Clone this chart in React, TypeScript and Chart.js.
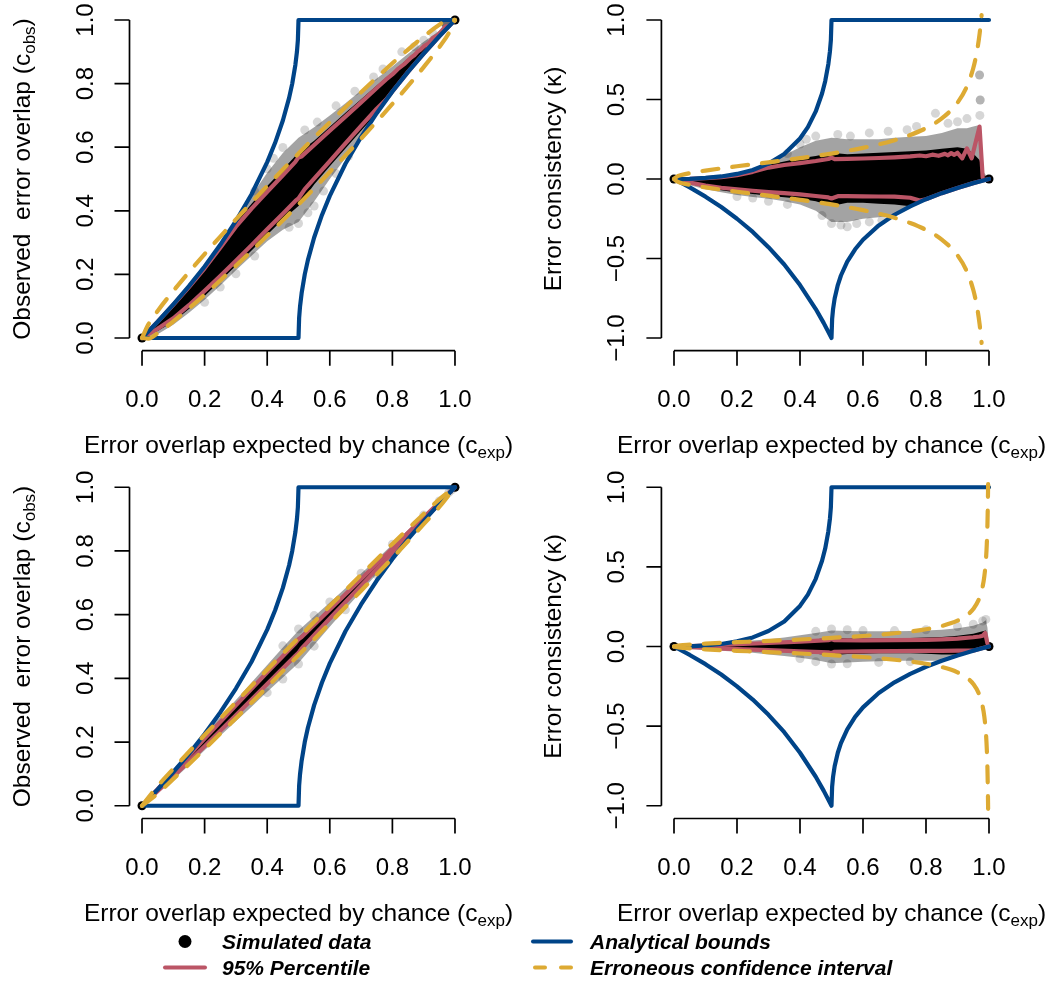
import { useEffect, useRef } from "react";
import { Chart, registerables } from "chart.js";

Chart.register(...registerables);

const FONT = '"Liberation Sans", Arimo, Helvetica, Arial, sans-serif';
const BLUE = "#004488";
const RED = "#BB5566";
const YELLOW = "#DDAA33";

// ---------- axis ticks ----------
const expTicks = [0, 0.2, 0.4, 0.6, 0.8, 1.0];
const expTickLabels = ["0.0", "0.2", "0.4", "0.6", "0.8", "1.0"];
const obsTicks = [0, 0.2, 0.4, 0.6, 0.8, 1.0];
const obsTickLabels = ["0.0", "0.2", "0.4", "0.6", "0.8", "1.0"];
const kappaTicks = [-1, -0.5, 0, 0.5, 1];
const kappaTickLabels = ["\u22121.0", "\u22120.5", "0.0", "0.5", "1.0"];

// ---------- analytical bounds ----------
const boundUpperExp = [0, 0.05, 0.1, 0.15, 0.2, 0.25, 0.3, 0.35, 0.4, 0.425, 0.45, 0.47, 0.48, 0.49, 0.495, 0.498, 0.5, 1.0];
const boundUpperObs = [0, 0.051, 0.106, 0.163, 0.225, 0.293, 0.368, 0.452, 0.553, 0.613, 0.684, 0.755, 0.8, 0.859, 0.9, 0.937, 1.0, 1.0];
const boundUpperKappa = [0, 0.001, 0.007, 0.016, 0.032, 0.057, 0.097, 0.157, 0.255, 0.326, 0.425, 0.538, 0.615, 0.723, 0.802, 0.874, 1.0, 1.0];
const boundLowerObsExp = [0, 0.5, 0.502, 0.505, 0.51, 0.52, 0.53, 0.55, 0.575, 0.6, 0.65, 0.7, 0.75, 0.8, 0.85, 0.9, 0.95, 1.0];
const boundLowerObs = [0, 0, 0.063, 0.1, 0.141, 0.2, 0.245, 0.316, 0.387, 0.447, 0.548, 0.632, 0.707, 0.775, 0.837, 0.894, 0.949, 1.0];
const boundLowerKappaExp = [0, 0.05, 0.1, 0.15, 0.2, 0.25, 0.3, 0.35, 0.4, 0.45, 0.475, 0.5, 0.502, 0.505, 0.51, 0.52, 0.53, 0.55, 0.575, 0.6, 0.65, 0.7, 0.75, 0.8, 0.85, 0.9, 0.95, 1.0];
const boundLowerKappa = [0, -0.053, -0.111, -0.176, -0.25, -0.333, -0.429, -0.538, -0.667, -0.818, -0.905, -1.0, -0.881, -0.818, -0.752, -0.667, -0.607, -0.52, -0.442, -0.382, -0.292, -0.225, -0.172, -0.127, -0.089, -0.056, -0.026, 0];

// ---------- simulated data cloud, top row ----------
const cloudExpTop = [0, 0.05, 0.1, 0.15, 0.2, 0.25, 0.3, 0.35, 0.4, 0.45, 0.5, 0.55, 0.6, 0.65, 0.7, 0.75, 0.8, 0.85, 0.9, 0.93, 0.95, 0.97, 0.98, 1.0];
const coreUpObsTop = [0, 0.051, 0.105, 0.163, 0.224, 0.291, 0.363, 0.422, 0.478, 0.53, 0.583, 0.62, 0.664, 0.708, 0.751, 0.794, 0.836, 0.879, 0.92, 0.943, 0.958, 0.974, 0.981, 1];
const coreLoObsTop = [0, 0.022, 0.051, 0.091, 0.132, 0.179, 0.227, 0.275, 0.325, 0.373, 0.415, 0.483, 0.54, 0.596, 0.652, 0.707, 0.775, 0.837, 0.894, 0.927, 0.949, 0.97, 0.98, 1];
const haloUpObsTop = [0, 0.051, 0.106, 0.164, 0.226, 0.293, 0.368, 0.448, 0.52, 0.582, 0.63, 0.663, 0.7, 0.738, 0.778, 0.816, 0.854, 0.894, 0.932, 0.952, 0.967, 0.98, 0.981, 1];
const haloLoObsTop = [0, 0.012, 0.042, 0.079, 0.12, 0.165, 0.213, 0.259, 0.304, 0.34, 0.365, 0.429, 0.5, 0.566, 0.633, 0.707, 0.775, 0.837, 0.894, 0.927, 0.949, 0.97, 0.98, 1];
const coreUpKappaTop = [0, 0.001, 0.006, 0.015, 0.03, 0.055, 0.09, 0.11, 0.13, 0.145, 0.165, 0.155, 0.16, 0.165, 0.17, 0.175, 0.18, 0.19, 0.2, 0.19, 0.16, 0.12, 0.03, 0];
const coreLoKappaTop = [0, -0.03, -0.055, -0.07, -0.085, -0.095, -0.105, -0.115, -0.125, -0.14, -0.17, -0.15, -0.15, -0.155, -0.16, -0.172, -0.127, -0.089, -0.056, -0.038, -0.026, -0.016, -0.01, 0];
const haloUpKappaTop = [0, 0.001, 0.007, 0.016, 0.032, 0.057, 0.097, 0.15, 0.2, 0.24, 0.26, 0.25, 0.25, 0.25, 0.26, 0.265, 0.27, 0.29, 0.32, 0.32, 0.33, 0.34, 0.05, 0];
const haloLoKappaTop = [0, -0.04, -0.065, -0.083, -0.1, -0.113, -0.125, -0.14, -0.16, -0.2, -0.27, -0.27, -0.25, -0.24, -0.225, -0.172, -0.127, -0.089, -0.056, -0.038, -0.026, -0.016, -0.01, 0];

// scattered simulated points outside the dense core, top row (first two: corner points)
const simExpTop = [0, 1, 0.97, 0.97, 0.972, 0.972, 0.971, 0.83, 0.77, 0.62, 0.45, 0.42, 0.52, 0.68, 0.87, 0.9, 0.93, 0.53, 0.55, 0.5, 0.58, 0.62, 0.36, 0.3, 0.25, 0.2, 0.47, 0.66, 0.56, 0.74, 0.36, 0.4];
const simObsTop = [0, 1, 0.99, 0.99, 0.986, 0.986, 0.983, 0.9, 0.846, 0.73, 0.599, 0.565, 0.654, 0.776, 0.916, 0.936, 0.957, 0.394, 0.415, 0.36, 0.462, 0.517, 0.258, 0.202, 0.16, 0.112, 0.348, 0.572, 0.679, 0.821, 0.462, 0.532];
const simKappaTop = [0, 0, 0.654, 0.654, 0.497, 0.497, 0.4, 0.413, 0.33, 0.29, 0.27, 0.25, 0.28, 0.3, 0.35, 0.36, 0.38, -0.29, -0.3, -0.28, -0.28, -0.27, -0.16, -0.14, -0.12, -0.11, -0.23, -0.26, 0.27, 0.31, 0.16, 0.22];

// ---------- 95% percentile, top row ----------
const pctUpExpTop = [0, 0.05, 0.1, 0.15, 0.2, 0.25, 0.3, 0.35, 0.4, 0.45, 0.49, 0.5, 0.51, 0.55, 0.6, 0.65, 0.7, 0.75, 0.78, 0.8, 0.82, 0.84, 0.86, 0.87, 0.88, 0.89, 0.9, 0.915, 0.93, 0.945, 0.97, 0.98];
const pctUpObsTop = [0, 0.051, 0.1045, 0.16, 0.219, 0.284, 0.35, 0.407, 0.46, 0.512, 0.554, 0.568, 0.571, 0.607, 0.652, 0.696, 0.741, 0.786, 0.813, 0.829, 0.848, 0.863, 0.882, 0.889, 0.9, 0.907, 0.917, 0.926, 0.944, 0.952, 0.98, 0.98];
const pctUpKappaTop = [0, 0.001, 0.005, 0.012, 0.024, 0.045, 0.072, 0.088, 0.1, 0.113, 0.126, 0.135, 0.125, 0.126, 0.129, 0.132, 0.136, 0.142, 0.148, 0.143, 0.153, 0.146, 0.158, 0.149, 0.163, 0.152, 0.165, 0.13, 0.193, 0.13, 0.33, 0.01];
const pctLoExpTop = [0, 0.05, 0.1, 0.15, 0.2, 0.25, 0.3, 0.35, 0.4, 0.45, 0.49, 0.5, 0.52, 0.55, 0.6, 0.65, 0.7, 0.75, 0.78, 0.8, 0.85, 0.9, 0.95, 0.98, 1.0];
const pctLoObsTop = [0, 0.029, 0.062, 0.103, 0.148, 0.195, 0.243, 0.292, 0.342, 0.391, 0.431, 0.439, 0.468, 0.501, 0.556, 0.612, 0.667, 0.721, 0.75, 0.775, 0.837, 0.894, 0.949, 0.98, 1];
const pctLoKappaTop = [0, -0.022, -0.042, -0.055, -0.065, -0.074, -0.082, -0.089, -0.097, -0.107, -0.116, -0.122, -0.108, -0.108, -0.109, -0.11, -0.111, -0.118, -0.135, -0.127, -0.089, -0.056, -0.026, -0.01, 0];

// ---------- erroneous confidence interval, top row ----------
const ciObsExpTop = [0, 0.02, 0.05, 0.1, 0.15, 0.2, 0.25, 0.3, 0.35, 0.4, 0.45, 0.5, 0.55, 0.6, 0.65, 0.7, 0.75, 0.8, 0.85, 0.9, 0.95, 0.98, 1];
const ciObsUpTop = [0, 0.042, 0.085, 0.148, 0.207, 0.264, 0.319, 0.373, 0.426, 0.478, 0.53, 0.58, 0.63, 0.678, 0.726, 0.773, 0.819, 0.864, 0.907, 0.948, 0.985, 1.002, 1];
const ciObsLoTop = [0, -0.002, 0.015, 0.052, 0.093, 0.136, 0.181, 0.227, 0.274, 0.322, 0.37, 0.42, 0.47, 0.522, 0.574, 0.627, 0.681, 0.736, 0.793, 0.852, 0.915, 0.958, 1];
const ciKappaExpTop = [0, 0.01, 0.02, 0.05, 0.1, 0.15, 0.2, 0.3, 0.4, 0.5, 0.6, 0.7, 0.75, 0.8, 0.85, 0.9, 0.93, 0.95, 0.96, 0.97, 0.9765];
const ciKappaUpTop = [0, 0.016, 0.023, 0.037, 0.053, 0.067, 0.08, 0.105, 0.131, 0.16, 0.196, 0.244, 0.277, 0.32, 0.381, 0.48, 0.583, 0.697, 0.784, 0.91, 1.031];
const ciKappaLoTop = [0, -0.016, -0.023, -0.037, -0.053, -0.067, -0.08, -0.105, -0.131, -0.16, -0.196, -0.244, -0.277, -0.32, -0.381, -0.48, -0.583, -0.697, -0.784, -0.91, -1.031];

// ---------- simulated data cloud, bottom row ----------
const cloudExpBot = [0, 0.05, 0.1, 0.15, 0.2, 0.25, 0.3, 0.35, 0.4, 0.45, 0.5, 0.55, 0.6, 0.65, 0.7, 0.75, 0.8, 0.85, 0.9, 0.95, 0.98, 0.99, 0.995, 1.0];
const coreUpObsBot = [0, 0.051, 0.105, 0.161, 0.216, 0.269, 0.321, 0.373, 0.424, 0.475, 0.528, 0.573, 0.62, 0.668, 0.716, 0.764, 0.811, 0.859, 0.907, 0.954, 0.982, 0.991, 0.995, 1];
const coreLoObsBot = [0, 0.043, 0.088, 0.135, 0.182, 0.231, 0.279, 0.328, 0.377, 0.425, 0.473, 0.529, 0.582, 0.635, 0.687, 0.739, 0.791, 0.843, 0.895, 0.949, 0.98, 0.99, 0.995, 1];
const haloUpObsBot = [0, 0.051, 0.106, 0.163, 0.224, 0.279, 0.332, 0.387, 0.442, 0.497, 0.55, 0.594, 0.638, 0.683, 0.729, 0.774, 0.82, 0.866, 0.912, 0.957, 0.983, 0.992, 0.996, 1];
const haloLoObsBot = [0, 0.039, 0.082, 0.127, 0.174, 0.22, 0.265, 0.311, 0.358, 0.403, 0.448, 0.505, 0.562, 0.618, 0.673, 0.728, 0.782, 0.837, 0.894, 0.949, 0.98, 0.99, 0.995, 1];
const coreUpKappaBot = [0, 0.001, 0.006, 0.013, 0.02, 0.025, 0.03, 0.035, 0.04, 0.046, 0.055, 0.05, 0.05, 0.05, 0.052, 0.054, 0.056, 0.06, 0.068, 0.08, 0.095, 0.1, 0.06, 0];
const coreLoKappaBot = [0, -0.007, -0.013, -0.018, -0.022, -0.026, -0.03, -0.034, -0.038, -0.045, -0.055, -0.047, -0.045, -0.043, -0.042, -0.043, -0.045, -0.05, -0.05, -0.026, -0.01, -0.005, -0.0025, 0];
const haloUpKappaBot = [0, 0.001, 0.0066, 0.0157, 0.03, 0.038, 0.045, 0.057, 0.07, 0.085, 0.1, 0.097, 0.095, 0.095, 0.095, 0.097, 0.1, 0.105, 0.115, 0.13, 0.15, 0.165, 0.12, 0];
const haloLoKappaBot = [0, -0.012, -0.02, -0.027, -0.033, -0.04, -0.05, -0.06, -0.07, -0.085, -0.105, -0.1, -0.095, -0.092, -0.09, -0.09, -0.09, -0.089, -0.056, -0.026, -0.01, -0.005, -0.0025, 0];

const simExpBot = [0, 1, 0.5, 0.55, 0.45, 0.6, 0.7, 0.8, 0.9, 0.95, 0.98, 0.99, 0.5, 0.55, 0.45, 0.65, 0.4, 0.75];
const simObsBot = [0, 1, 0.555, 0.597, 0.502, 0.64, 0.73, 0.821, 0.9125, 0.957, 0.983, 0.992, 0.445, 0.501, 0.398, 0.615, 0.355, 0.726];
const simKappaBot = [0, 0, 0.11, 0.105, 0.095, 0.1, 0.1, 0.105, 0.125, 0.14, 0.16, 0.17, -0.11, -0.108, -0.095, -0.1, -0.075, -0.095];

// ---------- 95% percentile, bottom row ----------
const pctUpExpBot = [0, 0.1, 0.2, 0.3, 0.4, 0.49, 0.5, 0.51, 0.6, 0.7, 0.8, 0.85, 0.9, 0.95, 0.97, 0.98, 0.988, 0.995];
const pctUpObsBot = [0, 0.1045, 0.211, 0.315, 0.419, 0.51, 0.523, 0.53, 0.616, 0.712, 0.808, 0.857, 0.905, 0.953, 0.972, 0.981, 0.989, 0.995];
const pctUpKappaBot = [0, 0.005, 0.014, 0.022, 0.031, 0.04, 0.045, 0.04, 0.039, 0.04, 0.042, 0.045, 0.05, 0.058, 0.063, 0.068, 0.085, 0.02];
const pctLoExpBot = [0, 0.1, 0.2, 0.3, 0.4, 0.49, 0.5, 0.51, 0.6, 0.7, 0.8, 0.85, 0.9, 0.95, 0.98, 1.0];
const pctLoObsBot = [0, 0.092, 0.187, 0.284, 0.382, 0.471, 0.48, 0.494, 0.588, 0.691, 0.794, 0.846, 0.897, 0.949, 0.98, 1];
const pctLoKappaBot = [0, -0.009, -0.016, -0.023, -0.03, -0.037, -0.041, -0.033, -0.03, -0.029, -0.028, -0.027, -0.026, -0.0263, -0.01, 0];

// ---------- erroneous confidence interval, bottom row ----------
const ciObsExpBot = [0, 0.05, 0.1, 0.2, 0.3, 0.4, 0.5, 0.6, 0.7, 0.8, 0.9, 0.95, 1];
const ciObsUpBot = [0, 0.062, 0.116, 0.222, 0.325, 0.427, 0.527, 0.627, 0.725, 0.822, 0.916, 0.962, 1];
const ciObsLoBot = [0, 0.038, 0.084, 0.178, 0.275, 0.373, 0.473, 0.573, 0.675, 0.778, 0.884, 0.938, 1];
const ciKappaExpBot = [0, 0.02, 0.05, 0.1, 0.15, 0.2, 0.3, 0.4, 0.5, 0.6, 0.7, 0.75, 0.8, 0.85, 0.9, 0.93, 0.95, 0.97, 0.98, 0.985, 0.99, 0.993, 0.995, 0.997, 0.9972];
const ciKappaUpBot = [0, 0.008, 0.012, 0.018, 0.023, 0.027, 0.035, 0.044, 0.054, 0.066, 0.083, 0.094, 0.108, 0.129, 0.162, 0.197, 0.235, 0.307, 0.378, 0.438, 0.537, 0.643, 0.762, 0.984, 1.019];
const ciKappaLoBot = [0, -0.008, -0.012, -0.018, -0.023, -0.027, -0.035, -0.044, -0.054, -0.066, -0.083, -0.094, -0.108, -0.129, -0.162, -0.197, -0.235, -0.307, -0.378, -0.438, -0.537, -0.643, -0.762, -0.984, -1.019];

// ---------- helpers ----------
const pts = (xs: number[], ys: number[]) => xs.map((x, i) => ({ x, y: ys[i] }));

type Series = {
  cloudX: number[];
  haloUp: number[]; haloLo: number[]; coreUp: number[]; coreLo: number[];
  simX: number[]; simY: number[];
  pctUpX: number[]; pctUp: number[]; pctLoX: number[]; pctLo: number[];
  bUpX: number[]; bUp: number[]; bLoX: number[]; bLo: number[];
  ciX: number[]; ciUp: number[]; ciLo: number[];
};

const DASH = [16, 14];

function buildDatasets(s: Series) {
  const list: any[] = [];
  const add = (d: any) => {
    const i = list.length;
    list.push({ order: -i, pointRadius: 0, tension: 0, fill: false, ...d });
  };
  const edge = (data: any[], fill: any, bg?: string) =>
    add({ data, borderWidth: 0, borderColor: "transparent", fill, backgroundColor: bg || "transparent" });
  const line = (data: any[], color: string, dash: number[] = [], mono = false) =>
    add({
      data, borderColor: color, borderWidth: 4.2, borderDash: dash,
      borderCapStyle: "round", borderJoinStyle: "round",
      cubicInterpolationMode: mono ? "monotone" : "default",
    });

  // fuzzy fringe and dense core of the simulated points
  edge(pts(s.cloudX, s.haloUp), false);
  edge(pts(s.cloudX, s.haloLo), "-1", "rgba(0,0,0,0.36)");
  edge(pts(s.cloudX, s.coreUp), false);
  edge(pts(s.cloudX, s.coreLo), "-1", "#000000");
  add({
    data: pts(s.simX, s.simY), showLine: false, pointRadius: 4.5,
    pointBackgroundColor: s.simX.map((_, i) => (i < 2 ? "#000000" : "rgba(0,0,0,0.16)")),
    pointBorderColor: "transparent", pointBorderWidth: 0,
    borderColor: "transparent",
  });
  line(pts(s.pctUpX, s.pctUp), RED);
  line(pts(s.pctLoX, s.pctLo), RED);
  line(pts(s.bUpX, s.bUp), BLUE);
  line(pts(s.bLoX, s.bLo), BLUE);
  line(pts(s.ciX, s.ciUp), YELLOW, DASH, true);
  line(pts(s.ciX, s.ciLo), YELLOW, DASH, true);
  return list;
}

type PanelSpec = {
  left: number; top: number; width: number; height: number;
  padding: { left: number; right: number; top: number; bottom: number };
  yMin: number; yMax: number;
  yTicks: number[]; yTickLabels: string[];
  yTitle: [string, string, string];
  series: Series;
};

function drawSubText(ctx: CanvasRenderingContext2D, parts: [string, string, string], size: number) {
  const main = `${size}px ${FONT}`;
  const sub = `${Math.round(size * 0.7)}px ${FONT}`;
  ctx.font = main;
  const w1 = ctx.measureText(parts[0]).width;
  const w3 = ctx.measureText(parts[2]).width;
  ctx.font = sub;
  const w2 = ctx.measureText(parts[1]).width;
  let x = -(w1 + w2 + w3) / 2;
  ctx.textAlign = "left";
  ctx.textBaseline = "alphabetic";
  ctx.font = main;
  ctx.fillText(parts[0], x, 0);
  x += w1;
  ctx.font = sub;
  ctx.fillText(parts[1], x, 5);
  x += w2;
  ctx.font = main;
  ctx.fillText(parts[2], x, 0);
}

function makeAxesPlugin(spec: PanelSpec) {
  return {
    id: "baseAxes",
    afterDraw(chart: any) {
      const { ctx, chartArea } = chart;
      const xs = chart.scales.x;
      const ys = chart.scales.y;
      const tick = 15;
      ctx.save();
      ctx.strokeStyle = "#000";
      ctx.fillStyle = "#000";
      ctx.lineWidth = 1.7;
      ctx.lineCap = "butt";

      // horizontal axis
      const yb = chartArea.bottom;
      ctx.beginPath();
      ctx.moveTo(xs.getPixelForValue(expTicks[0]), yb);
      ctx.lineTo(xs.getPixelForValue(expTicks[expTicks.length - 1]), yb);
      expTicks.forEach((t) => {
        const px = xs.getPixelForValue(t);
        ctx.moveTo(px, yb);
        ctx.lineTo(px, yb + tick);
      });
      ctx.stroke();
      ctx.font = `24px ${FONT}`;
      ctx.textAlign = "center";
      ctx.textBaseline = "alphabetic";
      expTicks.forEach((t, i) => ctx.fillText(expTickLabels[i], xs.getPixelForValue(t), yb + 56));

      // vertical axis
      const xl = chartArea.left;
      ctx.beginPath();
      ctx.moveTo(xl, ys.getPixelForValue(spec.yTicks[0]));
      ctx.lineTo(xl, ys.getPixelForValue(spec.yTicks[spec.yTicks.length - 1]));
      spec.yTicks.forEach((t) => {
        const py = ys.getPixelForValue(t);
        ctx.moveTo(xl, py);
        ctx.lineTo(xl - tick, py);
      });
      ctx.stroke();
      spec.yTicks.forEach((t, i) => {
        ctx.save();
        ctx.translate(xl - 37, ys.getPixelForValue(t));
        ctx.rotate(-Math.PI / 2);
        ctx.font = `24px ${FONT}`;
        ctx.textAlign = "center";
        ctx.textBaseline = "alphabetic";
        ctx.fillText(spec.yTickLabels[i], 0, 0);
        ctx.restore();
      });

      // axis titles
      const cx = (chartArea.left + chartArea.right) / 2;
      const cy = (chartArea.top + chartArea.bottom) / 2;
      ctx.save();
      ctx.translate(cx, yb + 102.5);
      drawSubText(ctx, ["Error overlap expected by chance (c", "exp", ")"], 24.5);
      ctx.restore();
      ctx.save();
      ctx.translate(xl - 100, cy);
      ctx.rotate(-Math.PI / 2);
      drawSubText(ctx, spec.yTitle, 24.5);
      ctx.restore();
      ctx.restore();
    },
  };
}

function Panel({ spec }: { spec: PanelSpec }) {
  const ref = useRef<HTMLCanvasElement>(null);
  useEffect(() => {
    const chart = new Chart(ref.current as HTMLCanvasElement, {
      type: "line",
      data: { datasets: buildDatasets(spec.series) },
      options: {
        animation: false,
        responsive: false,
        maintainAspectRatio: false,
        devicePixelRatio: 1,
        events: [],
        layout: { padding: spec.padding },
        scales: {
          x: { type: "linear", min: -0.04, max: 1.04, display: false },
          y: { type: "linear", min: spec.yMin, max: spec.yMax, display: false },
        },
        plugins: { legend: { display: false }, tooltip: { enabled: false } },
      } as any,
      plugins: [makeAxesPlugin(spec)],
    });
    return () => chart.destroy();
  }, []);
  return (
    <canvas
      ref={ref}
      width={spec.width}
      height={spec.height}
      style={{ position: "absolute", left: spec.left, top: spec.top, width: spec.width, height: spec.height }}
    />
  );
}

const obsTitle: [string, string, string] = ["Observed  error overlap (c", "obs", ")"];
const kappaTitle: [string, string, string] = ["Error consistency (\u03BA)", "", ""];

const panels: PanelSpec[] = [
  {
    left: 0, top: 0, width: 530, height: 470,
    padding: { left: 129.5, right: 62.5, top: 7.3, bottom: 119.3 },
    yMin: -0.04, yMax: 1.04, yTicks: obsTicks, yTickLabels: obsTickLabels, yTitle: obsTitle,
    series: {
      cloudX: cloudExpTop, haloUp: haloUpObsTop, haloLo: haloLoObsTop, coreUp: coreUpObsTop, coreLo: coreLoObsTop,
      simX: simExpTop, simY: simObsTop,
      pctUpX: pctUpExpTop, pctUp: pctUpObsTop, pctLoX: pctLoExpTop, pctLo: pctLoObsTop,
      bUpX: boundUpperExp, bUp: boundUpperObs, bLoX: boundLowerObsExp, bLo: boundLowerObs,
      ciX: ciObsExpTop, ciUp: ciObsUpTop, ciLo: ciObsLoTop,
    },
  },
  {
    left: 530, top: 0, width: 528, height: 470,
    padding: { left: 131.4, right: 56.4, top: 7.3, bottom: 119.3 },
    yMin: -1.08, yMax: 1.08, yTicks: kappaTicks, yTickLabels: kappaTickLabels, yTitle: kappaTitle,
    series: {
      cloudX: cloudExpTop, haloUp: haloUpKappaTop, haloLo: haloLoKappaTop, coreUp: coreUpKappaTop, coreLo: coreLoKappaTop,
      simX: simExpTop, simY: simKappaTop,
      pctUpX: pctUpExpTop, pctUp: pctUpKappaTop, pctLoX: pctLoExpTop, pctLo: pctLoKappaTop,
      bUpX: boundUpperExp, bUp: boundUpperKappa, bLoX: boundLowerKappaExp, bLo: boundLowerKappa,
      ciX: ciKappaExpTop, ciUp: ciKappaUpTop, ciLo: ciKappaLoTop,
    },
  },
  {
    left: 0, top: 470, width: 530, height: 512,
    padding: { left: 129.5, right: 62.5, top: 3.9, bottom: 163.5 },
    yMin: -0.04, yMax: 1.04, yTicks: obsTicks, yTickLabels: obsTickLabels, yTitle: obsTitle,
    series: {
      cloudX: cloudExpBot, haloUp: haloUpObsBot, haloLo: haloLoObsBot, coreUp: coreUpObsBot, coreLo: coreLoObsBot,
      simX: simExpBot, simY: simObsBot,
      pctUpX: pctUpExpBot, pctUp: pctUpObsBot, pctLoX: pctLoExpBot, pctLo: pctLoObsBot,
      bUpX: boundUpperExp, bUp: boundUpperObs, bLoX: boundLowerObsExp, bLo: boundLowerObs,
      ciX: ciObsExpBot, ciUp: ciObsUpBot, ciLo: ciObsLoBot,
    },
  },
  {
    left: 530, top: 470, width: 528, height: 512,
    padding: { left: 131.4, right: 56.4, top: 3.9, bottom: 163.5 },
    yMin: -1.08, yMax: 1.08, yTicks: kappaTicks, yTickLabels: kappaTickLabels, yTitle: kappaTitle,
    series: {
      cloudX: cloudExpBot, haloUp: haloUpKappaBot, haloLo: haloLoKappaBot, coreUp: coreUpKappaBot, coreLo: coreLoKappaBot,
      simX: simExpBot, simY: simKappaBot,
      pctUpX: pctUpExpBot, pctUp: pctUpKappaBot, pctLoX: pctLoExpBot, pctLo: pctLoKappaBot,
      bUpX: boundUpperExp, bUp: boundUpperKappa, bLoX: boundLowerKappaExp, bLo: boundLowerKappa,
      ciX: ciKappaExpBot, ciUp: ciKappaUpBot, ciLo: ciKappaLoBot,
    },
  },
];

function Legend() {
  const textStyle = { fontFamily: FONT, fontStyle: "italic", fontWeight: 700, fontSize: 21 } as const;
  return (
    <svg width={1058} height={982} style={{ position: "absolute", left: 0, top: 0, pointerEvents: "none" }}>
      <circle cx={185} cy={941.5} r={6.5} fill="#000" />
      <line x1={165} y1={967.5} x2={205} y2={967.5} stroke={RED} strokeWidth={4} strokeLinecap="round" />
      <text x={222} y={949} {...textStyle}>Simulated data</text>
      <text x={222} y={975} {...textStyle}>95% Percentile</text>
      <line x1={533} y1={941.5} x2={571} y2={941.5} stroke={BLUE} strokeWidth={4} strokeLinecap="round" />
      <line x1={535} y1={967.5} x2={571} y2={967.5} stroke={YELLOW} strokeWidth={4} strokeLinecap="round" strokeDasharray="10 16" />
      <text x={590} y={949} {...textStyle}>Analytical bounds</text>
      <text x={590} y={975} {...textStyle}>Erroneous confidence interval</text>
    </svg>
  );
}

export default function App() {
  return (
    <div style={{ position: "absolute", left: 0, top: 0, width: 1058, height: 982, background: "#fff", overflow: "hidden" }}>
      {panels.map((p, i) => (
        <Panel key={i} spec={p} />
      ))}
      <Legend />
    </div>
  );
}
